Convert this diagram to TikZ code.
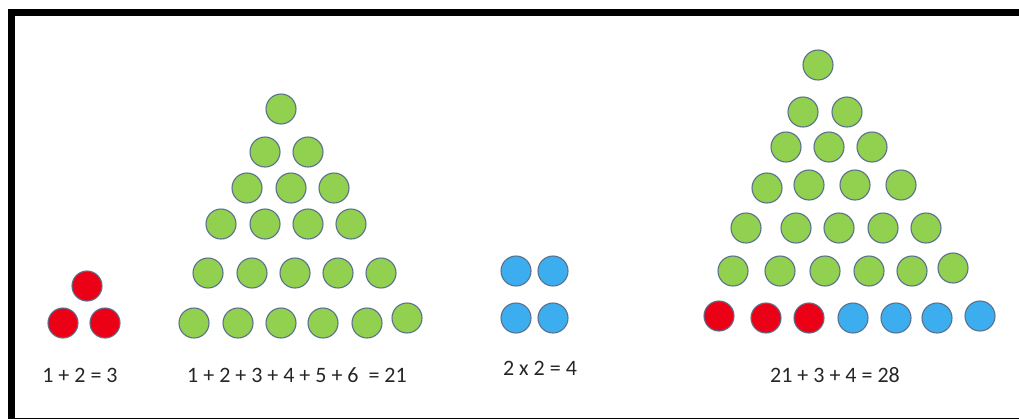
\documentclass[tikz,border=0pt]{standalone}
\usepackage{fontspec}
\setmainfont{Carlito}
\definecolor{dotgreen}{RGB}{146,208,80}
\definecolor{dotred}{RGB}{236,0,22}
\definecolor{dotblue}{RGB}{60,174,240}
\definecolor{dotline}{RGB}{90,112,140}
\tikzset{
  dot/.style={circle,minimum size=30pt,inner sep=0pt,draw=dotline,line width=1.1pt},
  gdot/.style={dot,fill=dotgreen},
  rdot/.style={dot,fill=dotred},
  bdot/.style={dot,fill=dotblue},
  eqlabel/.style={anchor=base,inner sep=0pt,text=black!85,font=\fontsize{22}{26}\selectfont}
}
\begin{document}
\begin{tikzpicture}[x=1pt,y=-1pt]
\useasboundingbox (0,0) rectangle (1019,418);
\clip (0,0) rectangle (1019,418);
\draw[line width=7pt] (11.5,12.5) rectangle (1030,421);
% small red triangle
\foreach \x/\y/\n in {87/286/a1,63/323/a2,105/323/a3}
  \node[rdot] (\n) at (\x,\y) {};
% green triangle of 21
\foreach \x/\y/\n in {281/109/b1,
  265/152/b2,308/152/b3,
  247/188/b4,291/188/b5,334/188/b6,
  221/224/b7,265/224/b8,308/224/b9,351/224/b10,
  208/273/b11,252/273/b12,295/273/b13,338/273/b14,381/273/b15,
  194/323/b16,238/323/b17,281/323/b18,323/323/b19,367/323/b20,407/318/b21}
  \node[gdot] (\n) at (\x,\y) {};
% blue square
\foreach \x/\y/\n in {516/271/c1,553/271/c2,516/318/c3,553/318/c4}
  \node[bdot] (\n) at (\x,\y) {};
% big triangle
\foreach \x/\y/\n in {818/65/d1,
  803/112/d2,847/112/d3,
  786/147/d4,829/147/d5,872/147/d6,
  767/188/d7,809/185/d8,855/185/d9,901/185/d10,
  746/228/d11,796/228/d12,839/228/d13,883/228/d14,926/228/d15,
  733/271/d16,780/271/d17,825/271/d18,869/271/d19,912/271/d20,953/268/d21}
  \node[gdot] (\n) at (\x,\y) {};
\foreach \x/\y/\n in {719/316/e1,766/318/e2,809/318/e3}
  \node[rdot] (\n) at (\x,\y) {};
\foreach \x/\y/\n in {853/318/f1,896/318/f2,937/318/f3,980/316/f4}
  \node[bdot] (\n) at (\x,\y) {};
% labels
\node[eqlabel] (l1) at (80,382) {1 + 2 = 3};
\node[eqlabel] (l2) at (297,382) {1 + 2 + 3 + 4 + 5 + 6 \ = 21};
\node[eqlabel] (l3) at (540,375) {2 x 2 = 4};
\node[eqlabel] (l4) at (835,382) {21 + 3 + 4 = 28};
\end{tikzpicture}
\end{document}
